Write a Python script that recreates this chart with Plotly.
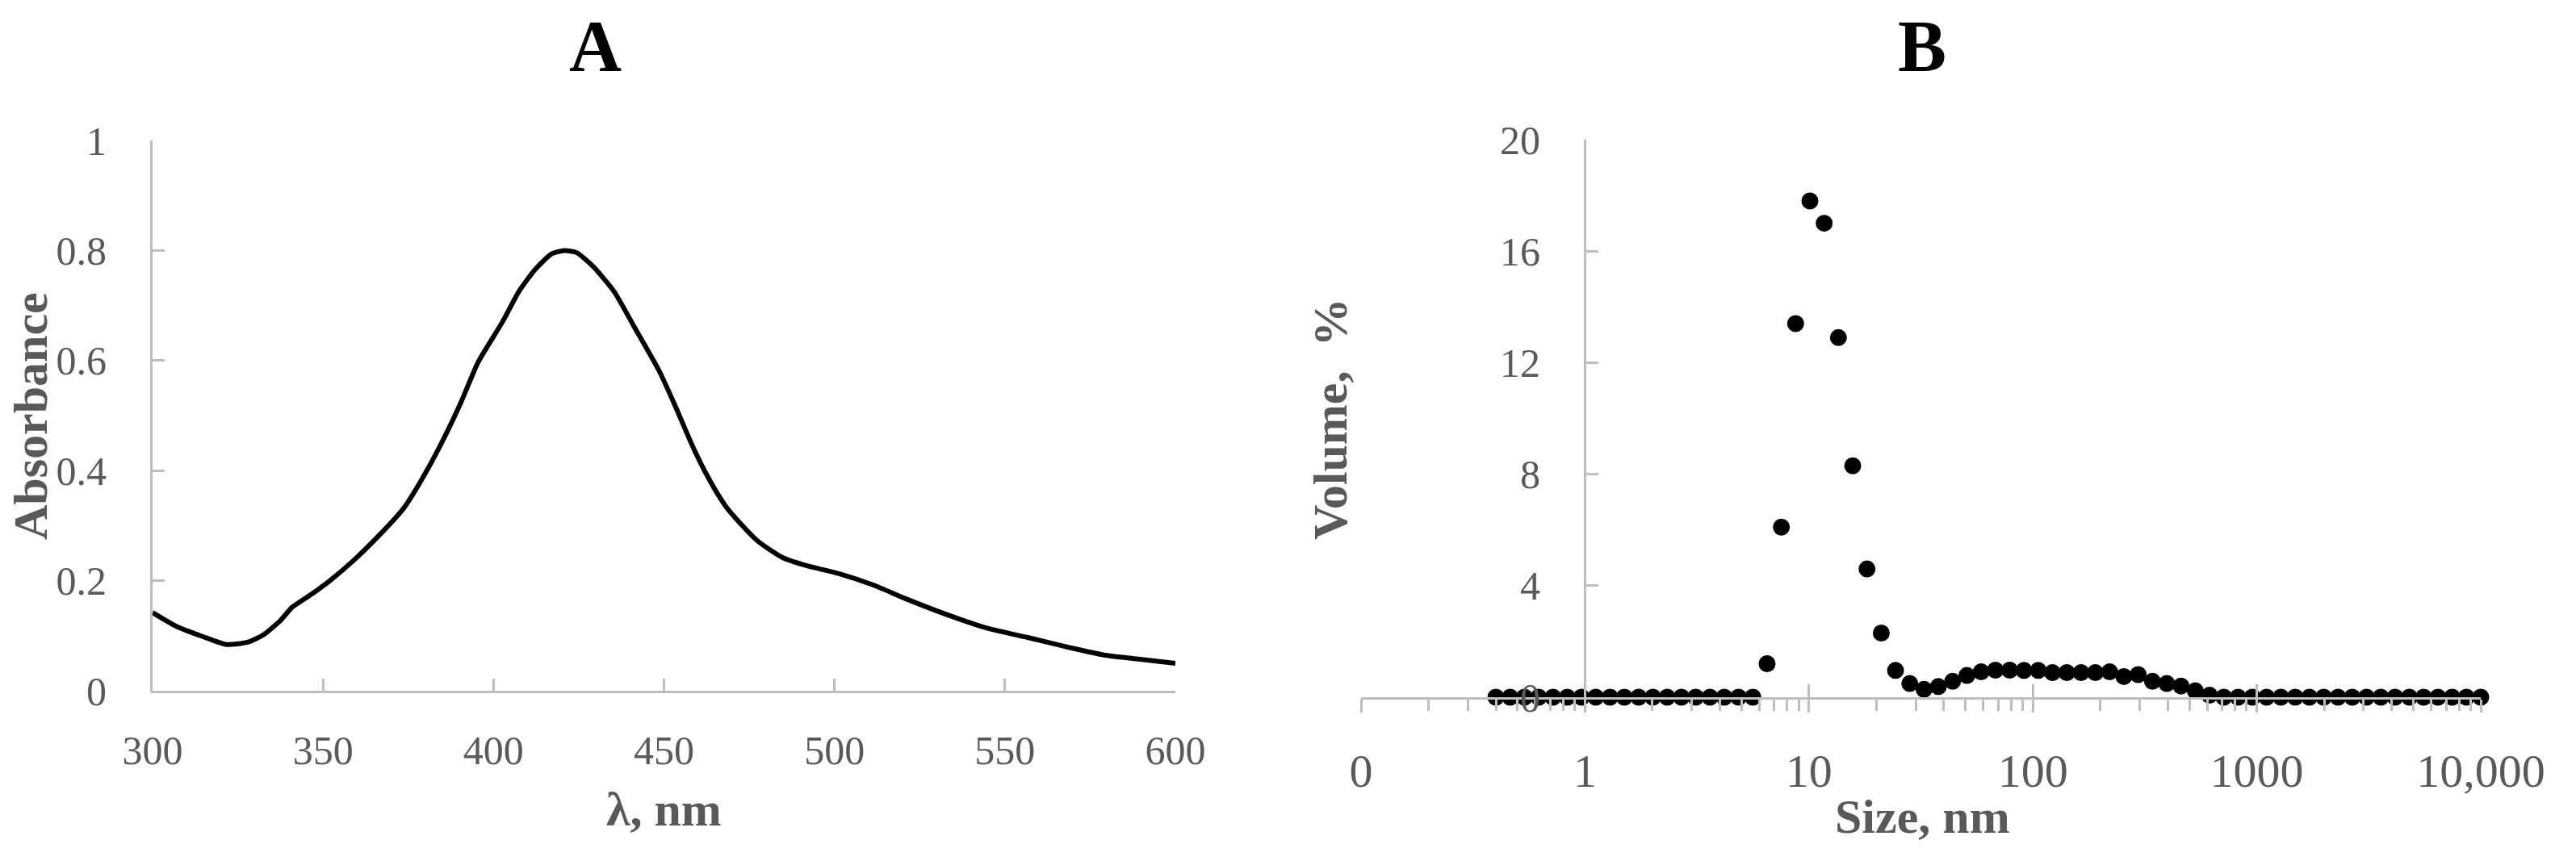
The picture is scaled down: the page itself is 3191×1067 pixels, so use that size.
import plotly.graph_objects as go

W, H = 3191, 1067

# ---------------- Panel A: UV-Vis spectrum ----------------
wavelength_nm = [300, 307, 314.5, 321.7, 327.8, 332.6, 337.4, 341, 347, 352, 359, 366.4,
                 373.7, 378.5, 384.5, 390.6, 395.4, 402.7, 407.5, 412.3, 417.1, 420.8,
                 424.4, 429.2, 435.3, 441.3, 448.6, 453.4, 458.2, 463, 467.9, 472.7,
                 477.5, 484.8, 492, 501.7, 511.4, 521, 533.1, 545.2, 557.2, 569.3,
                 579, 588.6, 600]
absorbance = [0.142, 0.117, 0.099, 0.084, 0.088, 0.102, 0.127, 0.152, 0.177, 0.2, 0.237, 0.282,
              0.332, 0.379, 0.447, 0.526, 0.596, 0.671, 0.726, 0.766, 0.794, 0.8,
              0.796, 0.771, 0.726, 0.661, 0.581, 0.516, 0.447, 0.387, 0.337, 0.302,
              0.272, 0.242, 0.227, 0.212, 0.192, 0.167, 0.138, 0.113, 0.096, 0.078,
              0.065, 0.058, 0.05]
a_xticks = [300, 350, 400, 450, 500, 550, 600]
a_yticks = [0, 0.2, 0.4, 0.6, 0.8, 1]
a_yticktext = ["0", "0.2", "0.4", "0.6", "0.8", "1"]

# ---------------- Panel B: DLS size distribution ----------------
size_nm = [0.4, 0.4632, 0.5365, 0.6213, 0.7195, 0.8332, 0.9649, 1.117, 1.294, 1.499,
           1.736, 2.01, 2.328, 2.696, 3.122, 3.615, 4.187, 4.849, 5.615, 6.503,
           7.531, 8.721, 10.1, 11.7, 13.54, 15.69, 18.17, 21.04, 24.36, 28.21,
           32.67, 37.84, 43.82, 50.75, 58.77, 68.06, 78.82, 91.28, 105.7, 122.4,
           141.8, 164.2, 190.1, 220.2, 255.0, 295.3, 342.0, 396.1, 458.7, 531.2,
           615.1, 712.4, 825.0, 955.4, 1106, 1281, 1484, 1718, 1990, 2305,
           2669, 3091, 3580, 4145, 4801, 5560, 6439, 7456, 8635, 10000]
volume_pct = [0, 0, 0, 0, 0, 0, 0, 0, 0, 0,
              0, 0, 0, 0, 0, 0, 0, 0, 0, 1.2,
              6.1, 13.4, 17.8, 17.0, 12.9, 8.3, 4.6, 2.3, 0.96, 0.49,
              0.28, 0.38, 0.57, 0.78, 0.91, 0.97, 0.97, 0.96, 0.96, 0.88,
              0.88, 0.88, 0.88, 0.91, 0.74, 0.81, 0.57, 0.49, 0.40, 0.23,
              0.07, 0, 0, 0, 0, 0, 0, 0, 0, 0,
              0, 0, 0, 0, 0, 0, 0, 0, 0, 0]
b_xticks = [0.1, 1, 10, 100, 1000, 10000]
b_xticktext = ["0", "1", "10", "100", "1000", "10,000"]
b_minor = [k * 10 ** n for n in range(-1, 4) for k in range(2, 10)]
b_yticks = [0, 4, 8, 12, 16, 20]

GREY_AX = "#bfbfbf"
GREY_TXT = "#595959"
FONT = "Liberation Serif"

fig = go.Figure()
fig.add_trace(go.Scatter(x=wavelength_nm, y=absorbance, mode="lines",
                         line=dict(color="black", width=6, shape="spline", smoothing=0.6),
                         xaxis="x", yaxis="y", showlegend=False))
fig.add_trace(go.Scatter(x=size_nm, y=volume_pct, mode="markers",
                         marker=dict(color="black", size=21),
                         xaxis="x2", yaxis="y2", cliponaxis=False, showlegend=False))
# invisible companion trace so the overlay axis (upper half of crossing ticks) is drawn
fig.add_trace(go.Scatter(x=size_nm, y=volume_pct, mode="markers",
                         marker=dict(color="black", size=1, opacity=0),
                         xaxis="x3", yaxis="y2", hoverinfo="skip", showlegend=False))

common = dict(showgrid=False, zeroline=False, showline=True, linecolor=GREY_AX, linewidth=3,
              tickwidth=3, tickcolor=GREY_AX, automargin=False)
tf = dict(family=FONT, size=50, color=GREY_TXT)

fig.update_layout(
    template="none",
    width=W, height=H, autosize=False,
    margin=dict(l=0, r=0, t=0, b=0, pad=0),
    paper_bgcolor="white", plot_bgcolor="white",
    xaxis=dict(domain=[189 / W, 1456 / W], range=[300, 600], tickmode="array",
               tickvals=a_xticks, ticks="inside", ticklen=15, tickfont=tf,
               ticklabelstandoff=28, anchor="y", **common),
    yaxis=dict(domain=[1 - 856 / H, 1 - 174 / H], range=[0, 1], tickmode="array",
               tickvals=a_yticks, ticktext=a_yticktext, ticks="inside", ticklen=15,
               tickfont=tf, ticklabelstandoff=44, anchor="x", **common),
    xaxis2=dict(domain=[1686 / W, 3073 / W], type="log", range=[-1, 4], tickmode="array",
                tickvals=b_xticks, ticktext=b_xticktext, ticks="outside", ticklen=16,
                minor=dict(tickmode="array", tickvals=b_minor, ticks="outside", ticklen=14,
                           tickwidth=3, tickcolor=GREY_AX, showgrid=False),
                tickfont=dict(family=FONT, size=58, color=GREY_TXT),
                ticklabelstandoff=22, anchor="y2", **common),
    xaxis3=dict(overlaying="x2", type="log", range=[-1, 4], tickmode="array",
                tickvals=b_xticks, ticks="inside", ticklen=16, tickwidth=3, tickcolor=GREY_AX,
                showticklabels=False, showline=False, showgrid=False, zeroline=False,
                automargin=False, anchor="y2"),
    yaxis2=dict(domain=[1 - 864 / H, 1 - 173 / H], range=[0, 20], tickmode="array",
                tickvals=b_yticks, ticks="inside", ticklen=15, tickfont=tf,
                ticklabelstandoff=44, anchor="free", position=1963 / W, **common),
)


def ann(text, px, py, size, color, angle=0):
    return dict(text="<b>" + text + "</b>", x=px / W, y=1 - py / H, xref="paper", yref="paper",
                showarrow=False, textangle=angle, xanchor="center", yanchor="middle",
                font=dict(family=FONT, size=size, color=color))


fig.update_layout(annotations=[
    ann("A", 737, 57, 90, "black"),
    ann("B", 2381, 57, 90, "black"),
    ann("Absorbance", 38, 516, 60, GREY_TXT, -90),
    ann("λ, nm", 822, 1003, 60, GREY_TXT),
    ann("Volume,\u00a0 %", 1648, 520, 60, GREY_TXT, -90),
    ann("Size, nm", 2381, 1012, 60, GREY_TXT),
])

fig.write_html("out.html", config={"displayModeBar": False},
               post_script="document.body.style.margin='0';")
